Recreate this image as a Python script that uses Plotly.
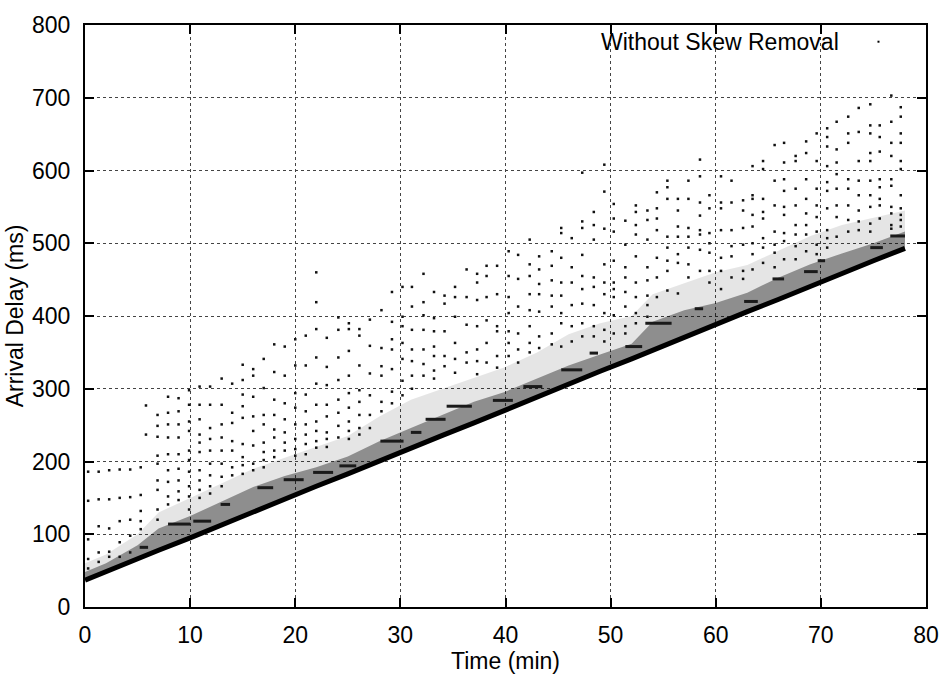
import plotly.graph_objects as go

# ---------------- data ----------------
# minimum-delay line, top of the dense band, and top of the looser fringe
band_t = [0, 2, 5, 7, 10, 13, 16, 19, 22, 25, 28, 31, 34, 37, 40, 43, 46, 49,
          52, 54, 57, 60, 63, 66, 69, 72, 75, 78]
band_low = [37, 49, 66, 78, 95, 113, 131, 148, 166, 183, 201, 218, 236, 253,
            271, 289, 306, 324, 341, 353, 370, 388, 406, 423, 441, 458, 476, 493]
band_top = [48, 60, 85, 108, 125, 145, 165, 180, 192, 207, 228, 246, 264, 282,
            296, 314, 332, 347, 362, 392, 408, 418, 432, 453, 471, 486, 500, 516]
fringe_top = [60, 72, 100, 130, 150, 170, 190, 205, 220, 235, 262, 285, 300,
              315, 330, 350, 375, 390, 400, 430, 445, 460, 470, 490, 510, 525,
              535, 545]

# short horizontal clusters (queue build-ups): start min, end min, delay ms
streak_t0 = [5.2, 7.9, 10.3, 12.9, 16.4, 18.9, 21.7, 24.2, 28.1, 31.0, 32.4,
             34.4, 38.8, 41.7, 45.3, 48.0, 51.4, 53.3, 58.0, 62.7, 65.4, 68.4,
             69.7, 74.7, 76.6]
streak_t1 = [6.0, 10.0, 12.0, 13.8, 17.9, 20.8, 23.6, 25.8, 30.3, 32.0, 34.3,
             36.8, 40.7, 43.5, 47.3, 48.8, 53.0, 55.8, 58.8, 64.0, 66.5, 69.7,
             70.4, 75.9, 78.0]
streak_d = [82, 114, 118, 141, 164, 175, 185, 194, 228, 240, 258, 276, 284,
            303, 326, 349, 358, 390, 410, 420, 451, 461, 476, 494, 510]

# scattered packets, grouped by time column (min) -> delays (ms)
col_t = [0.3, 1.3, 2.3, 3.3, 4.3, 5.3, 5.8, 6.9, 7.9, 8.9, 9.9, 10.9, 11.9,
         13.0, 14.0, 15.0, 16.0, 17.0, 18.0, 19.0, 20.0, 21.0, 22.0, 23.0,
         24.1, 25.1, 26.1, 27.1, 28.2, 29.2, 30.2, 31.1, 32.2, 33.2, 34.2,
         35.2, 36.3, 37.3, 38.2, 39.2, 40.3, 41.2, 42.3, 43.2, 44.4, 45.3,
         46.3, 47.3, 48.4, 49.4, 50.3, 51.4, 52.4, 53.5, 54.4, 55.4, 56.4,
         57.4, 58.5, 59.4, 60.5, 61.5, 62.6, 63.5, 64.5, 65.6, 66.5, 67.6,
         68.6, 69.6, 70.6, 71.5, 72.6, 73.6, 74.7, 75.6, 76.7, 77.6]
col_d = [
    [186, 146, 93, 66, 53],
    [186, 148, 111, 75, 62],
    [188, 148, 108, 76, 69],
    [189, 150, 118, 89, 69],
    [189, 151, 120, 98, 75],
    [192, 154, 132, 118, 107],
    [277, 237],
    [264, 249, 234, 208, 197, 174, 161, 134, 120],
    [289, 267, 251, 233, 210, 188, 172, 152, 141],
    [287, 269, 251, 233, 210, 190, 174, 159, 147],
    [298, 278, 255, 242, 215, 202, 186, 166, 152, 134],
    [303, 278, 258, 237, 226, 213, 188, 174, 161, 150],
    [303, 278, 246, 231, 215, 197, 181, 166, 156],
    [314, 278, 251, 233, 215, 197, 179, 166],
    [307, 267, 253, 228, 215, 192, 181],
    [333, 312, 292, 276, 260, 224, 206, 195, 183],
    [327, 318, 289, 262, 242, 222, 197, 188],
    [341, 301, 264, 251, 226, 213, 202, 192],
    [361, 323, 285, 264, 244, 233, 215, 206],
    [358, 318, 280, 258, 240, 226, 215],
    [368, 332, 294, 274, 251, 231, 217, 208],
    [373, 332, 292, 269, 251, 237, 224, 210],
    [460, 419, 382, 343, 307, 278, 255, 242, 228, 219],
    [370, 330, 305, 278, 262, 240, 231, 220],
    [398, 381, 343, 312, 285, 267, 249, 233],
    [390, 382, 352, 318, 294, 274, 255, 242, 231],
    [382, 373, 332, 298, 282, 264, 246, 237],
    [395, 359, 321, 291, 264, 246],
    [408, 356, 331, 318, 282, 269],
    [433, 392, 368, 354, 327, 296, 280],
    [440, 399, 386, 363, 341, 311, 291],
    [440, 413, 381, 354, 338, 318, 300],
    [458, 419, 401, 381, 354, 334, 318],
    [433, 397, 379, 358, 345, 325, 314],
    [428, 417, 379, 345, 331],
    [440, 426, 399, 363, 341, 322],
    [464, 426, 388, 350, 336],
    [458, 446, 422, 386, 354, 338, 320],
    [469, 455, 426, 394, 363, 336],
    [469, 430, 386, 379, 345, 329],
    [489, 455, 426, 404, 379, 363, 345],
    [484, 451, 413, 376, 354, 336],
    [505, 471, 455, 430, 408, 386, 363, 350],
    [482, 464, 444, 430, 406, 372, 356],
    [489, 469, 449, 428, 413, 376, 361],
    [521, 514, 480, 446, 428, 404, 390, 358],
    [507, 467, 446, 415, 386, 365],
    [597, 530, 521, 484, 455, 437, 417, 390, 372],
    [543, 525, 505, 453, 440, 415, 386, 372],
    [608, 571, 520, 471, 446, 430, 404, 381, 365],
    [554, 534, 516, 476, 446, 437, 426, 401, 376],
    [531, 498, 467, 453, 433, 413, 386, 376],
    [552, 543, 525, 512, 482, 446, 426, 404, 390],
    [545, 532, 505, 467, 449, 428, 415, 399],
    [570, 548, 534, 518, 480, 453, 426],
    [586, 577, 561, 509, 494, 476, 462, 435],
    [561, 545, 523, 509, 485, 473, 431],
    [586, 561, 521, 509, 494, 471, 453],
    [615, 592, 556, 538, 518, 512, 491, 462],
    [566, 548, 514, 500, 487, 462, 446],
    [592, 556, 548, 518, 480, 462, 437],
    [586, 556, 518, 496, 482, 453],
    [559, 545, 521, 498, 462, 451],
    [606, 566, 561, 539, 523, 500, 485, 464],
    [613, 602, 561, 543, 534, 507, 494, 473],
    [635, 586, 552, 516, 498, 487, 467],
    [638, 611, 588, 572, 550, 539, 514, 503, 478],
    [620, 613, 575, 552, 525, 512, 496, 478],
    [640, 624, 588, 561, 541, 525, 512, 489],
    [651, 613, 575, 552, 536, 516, 498, 485],
    [658, 646, 633, 606, 584, 572, 548, 518, 507, 494],
    [667, 629, 611, 595, 575, 552, 536, 509],
    [674, 651, 638, 588, 575, 552, 532, 516],
    [686, 653, 613, 586, 566, 545, 530, 518],
    [691, 662, 651, 624, 613, 586, 566, 550, 527, 516],
    [662, 646, 626, 588, 577, 561, 552, 534],
    [703, 667, 638, 620, 588, 579, 550, 541, 525, 520],
    [687, 674, 651, 638, 613, 602, 566, 548, 539, 532, 523],
]

x_ticks = [0, 10, 20, 30, 40, 50, 60, 70, 80]
y_ticks = [0, 100, 200, 300, 400, 500, 600, 700, 800]
legend_label = "Without Skew Removal"

# ---------------- build traces ----------------
pts_t, pts_d = [], []
for t, ds in zip(col_t, col_d):
    for d in ds:
        pts_t.append(t)
        pts_d.append(d)

st_x, st_y = [], []
for a, b, d in zip(streak_t0, streak_t1, streak_d):
    st_x += [a, b, None]
    st_y += [d, d, None]

FONT = "Liberation Sans, Arial, Helvetica, sans-serif"

fig = go.Figure()
# loose fringe above the dense band
fig.add_trace(go.Scatter(
    x=band_t + band_t[::-1], y=fringe_top + band_low[::-1],
    fill="toself", fillcolor="rgba(0,0,0,0.10)", line=dict(width=0),
    mode="lines", showlegend=False, hoverinfo="skip"))
# dense band (filled between minimum line and dense top)
fig.add_trace(go.Scatter(
    x=band_t + band_t[::-1], y=band_top + band_low[::-1],
    fill="toself", fillcolor="rgba(0,0,0,0.38)", line=dict(width=0),
    mode="lines", showlegend=False, hoverinfo="skip"))
# minimum-delay line (solid black ridge)
fig.add_trace(go.Scatter(
    x=band_t, y=band_low, mode="lines",
    line=dict(color="black", width=5), showlegend=False))
# clusters
fig.add_trace(go.Scatter(
    x=st_x, y=st_y, mode="lines",
    line=dict(color="#1a1a1a", width=3), showlegend=False))
# scattered packets
fig.add_trace(go.Scatter(
    x=pts_t, y=pts_d, mode="markers",
    marker=dict(symbol="square", size=2.5, color="#111", line=dict(width=0)),
    name=legend_label, showlegend=False))

axis_common = dict(
    showline=True, linecolor="black", linewidth=2, mirror="ticks",
    ticks="inside", ticklen=9, tickwidth=2, tickcolor="black",
    showgrid=True, gridcolor="#444", griddash="dot", gridwidth=1,
    zeroline=False, tickfont=dict(family=FONT, size=23, color="black"),
)

fig.update_layout(
    width=951, height=678,
    margin=dict(l=85, r=17, t=24, b=61),
    paper_bgcolor="white", plot_bgcolor="white",
    font=dict(family=FONT, size=23, color="black"),
    xaxis=dict(range=[0, 80], tickvals=x_ticks, ticklabelstandoff=6,
               title=dict(text="Time (min)", standoff=2,
                          font=dict(family=FONT, size=23)),
               **axis_common),
    yaxis=dict(range=[0, 800], tickvals=y_ticks, ticklabelstandoff=8,
               title=dict(text="Arrival Delay (ms)", standoff=2,
                          font=dict(family=FONT, size=23)),
               **axis_common),
    showlegend=False,
)

# key (gnuplot style: text then sample)
fig.add_annotation(text=legend_label, xref="paper", yref="paper",
                   x=0.8987, y=0.9713, xanchor="right", yanchor="middle",
                   showarrow=False, font=dict(family=FONT, size=23, color="black"))
fig.add_shape(type="rect", xref="paper", yref="paper",
              xsizemode="pixel", ysizemode="pixel",
              xanchor=0.9435, yanchor=0.9713, x0=-1, x1=1, y0=-1, y1=1,
              fillcolor="black", line=dict(width=0))

fig.write_html("out.html")
